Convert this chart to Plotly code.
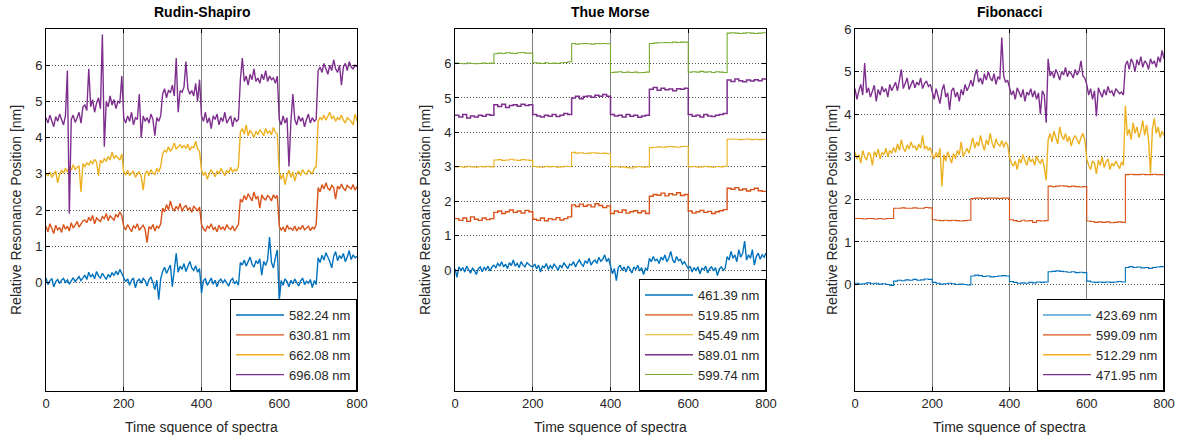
import plotly.graph_objects as go

# ---------------- sample indices ----------------
x_fine = list(range(0, 801, 5))     # densely read (noisy) traces
x_coarse = list(range(0, 801, 10))  # step-like traces

tick_x = [0, 200, 400, 600, 800]
tick_y = [0, 1, 2, 3, 4, 5, 6]

# ---------------- Rudin-Shapiro ----------------
rs_names = ["582.24 nm", "630.81 nm", "662.08 nm", "696.08 nm"]
rs_582 = [0.12, -0.06, 0.05, 0.10, -0.12, 0.02, 0.08, -0.03, 0.06, 0.11, 0.00, 0.07, -0.05, 0.04, 0.13, 0.02, 0.09, 0.16, 0.05, 0.14,
          0.20, 0.08, 0.28, 0.15, 0.22, 0.10, 0.30, 0.18, 0.12, 0.25, 0.16, 0.08, 0.22, 0.14, 0.27, 0.19, 0.31, 0.21, 0.36, 0.24,
          0.15, 0.02, 0.10, -0.08, 0.06, 0.12, -0.15, 0.04, 0.09, -0.02, 0.11, 0.05, -0.10, 0.08, 0.14, 0.00, -0.20, 0.06, -0.48, 0.10,
          0.30, 0.42, 0.25, 0.38, 0.48, -0.12, 0.35, 0.80, 0.28, 0.45, 0.36, 0.52, 0.30, 0.44, 0.58, 0.40, 0.33, 0.46, 0.28, 0.38,
          -0.30, 0.05, 0.10, -0.08, 0.02, 0.12, -0.05, 0.06, -0.12, 0.04, 0.09, -0.02, 0.07, 0.00, -0.10, 0.05, 0.11, -0.04, 0.03, -0.08,
          0.55, 0.48, 0.62, 0.45, 0.58, 0.70, 0.50, 0.42, 0.60, 0.52, 0.65, 0.20, 0.58, 0.47, 0.62, 1.25, 0.55, 0.40, 0.68, 0.90,
          -0.50, 0.05, -0.08, 0.10, 0.02, -0.12, 0.06, -0.04, 0.09, 0.00, -0.10, 0.04, 0.12, -0.06, 0.03, -0.02, 0.08, -0.14, 0.05, -0.06,
          0.68, 0.55, 0.75, 0.62, 0.82, 0.70, 0.58, 0.40, 0.72, 0.85, 0.60, 0.74, 0.66, 0.80, 0.57, 0.70, 0.88, 0.63, 0.76, 0.68, 0.72]
rs_630 = [1.55, 1.40, 1.62, 1.48, 1.35, 1.58, 1.45, 1.52, 1.38, 1.60, 1.47, 1.55, 1.42, 1.65, 1.50, 1.58, 1.68, 1.53, 1.62, 1.70,
          1.72, 1.65, 1.80, 1.70, 1.85, 1.62, 1.78, 1.74, 1.68, 1.82, 1.76, 1.90, 1.70, 1.84, 1.78, 1.72, 1.88, 1.80, 1.95, 1.84,
          1.55, 1.45, 1.60, 1.48, 1.40, 1.56, 1.50, 1.62, 1.44, 1.52, 1.58, 1.46, 1.10, 1.54, 1.48, 1.60, 1.42, 1.55, 1.50, 1.62,
          2.05, 1.95, 2.15, 2.00, 2.25, 2.05, 1.98, 2.10, 2.02, 2.18, 1.96, 2.08, 2.12, 2.00, 2.06, 1.94, 2.10, 2.04, 1.98, 2.08,
          1.60, 1.48, 1.42, 1.55, 1.50, 1.62, 1.45, 1.52, 1.40, 1.58, 1.47, 1.53, 1.44, 1.60, 1.50, 1.46, 1.56, 1.42, 1.52, 1.60,
          2.30, 2.22, 2.40, 2.28, 2.45, 2.35, 2.25, 2.50, 2.30, 2.38, 2.05, 2.42, 2.32, 2.28, 2.40, 2.35, 2.25, 2.42, 2.33, 2.40,
          1.55, 1.45, 1.52, 1.40, 1.58, 1.48, 1.50, 1.44, 1.56, 1.42, 1.52, 1.47, 1.58, 1.45, 1.50, 1.55, 1.43, 1.52, 1.48, 1.60,
          2.62, 2.50, 2.70, 2.58, 2.75, 2.60, 2.55, 2.68, 2.62, 2.30, 2.66, 2.58, 2.72, 2.60, 2.54, 2.68, 2.62, 2.58, 2.70, 2.55, 2.65]
rs_662 = [3.00, 2.95, 3.05, 2.90, 3.00, 3.08, 2.75, 2.98, 3.10, 3.02, 3.15, 3.05, 3.20, 3.10, 3.25, 3.12, 3.18, 3.22, 2.50, 3.28,
          3.20, 3.30, 3.25, 3.35, 3.28, 3.40, 3.32, 2.95, 3.38, 3.30, 3.42, 3.35, 3.48, 3.38, 3.60, 3.42, 3.50, 3.45, 3.38, 3.55,
          3.05, 2.98, 3.10, 2.95, 3.02, 3.08, 2.90, 3.00, 3.05, 2.92, 2.55, 3.00, 3.08, 2.95, 3.12, 3.02, 2.98, 3.15, 3.05, 3.20,
          3.55, 3.65, 3.60, 3.75, 3.62, 3.70, 3.85, 3.68, 3.75, 3.80, 3.72, 3.78, 3.70, 3.82, 3.65, 3.75, 3.72, 3.90, 3.68, 3.62,
          3.10, 2.95, 3.05, 2.85, 3.00, 3.12, 3.02, 2.92, 3.08, 3.00, 3.15, 3.05, 2.95, 3.10, 3.02, 3.18, 3.05, 3.12, 3.08, 3.20,
          4.15, 4.25, 4.10, 4.35, 4.05, 4.20, 4.12, 4.00, 4.18, 4.08, 4.22, 4.15, 4.05, 4.25, 4.12, 4.18, 4.08, 4.28, 4.15, 4.10,
          3.05, 2.85, 3.00, 2.70, 2.95, 3.10, 2.90, 3.05, 2.80, 3.00, 3.08, 2.95, 3.12, 3.02, 2.98, 3.10, 3.05, 3.00, 3.15, 3.20,
          4.45, 4.55, 4.50, 4.62, 4.48, 4.58, 4.70, 4.52, 4.60, 4.45, 4.55, 4.50, 4.62, 4.48, 4.40, 4.55, 4.50, 4.45, 4.35, 4.65, 4.45]
rs_696 = [4.55, 4.40, 4.62, 4.48, 4.30, 4.58, 4.45, 4.65, 4.50, 4.35, 4.60, 5.85, 1.90, 4.50, 4.62, 4.42, 4.55, 4.70, 4.40, 4.85,
          4.90, 4.75, 5.90, 4.85, 5.05, 4.70, 4.95, 5.10, 4.80, 6.85, 3.75, 5.00, 4.85, 5.15, 4.90, 5.05, 4.80, 5.00, 4.95, 5.70,
          4.55, 4.40, 4.60, 4.45, 4.70, 4.35, 4.55, 4.50, 5.20, 4.00, 4.60, 4.45, 4.55, 4.40, 4.65, 4.50, 4.05, 4.55, 4.45, 4.60,
          5.20, 5.35, 5.10, 5.30, 5.25, 5.45, 5.15, 6.20, 4.70, 5.30, 5.25, 5.40, 6.10, 5.35, 5.20, 5.30, 5.15, 5.50, 5.00, 5.60,
          4.60, 4.45, 4.70, 4.40, 4.55, 4.25, 4.60, 4.50, 4.65, 4.35, 4.55, 4.45, 4.70, 4.40, 4.50, 4.60, 4.30, 4.55, 4.45, 4.50,
          5.60, 6.20, 5.55, 5.70, 5.45, 5.75, 5.60, 5.90, 5.55, 5.65, 5.50, 5.75, 5.60, 5.85, 5.55, 5.70, 5.60, 5.65, 5.50, 5.70,
          4.50, 4.35, 4.60, 4.40, 4.55, 3.20, 4.45, 5.20, 4.50, 4.35, 4.60, 4.45, 4.55, 4.30, 4.50, 4.65, 4.40, 4.55, 4.45, 4.50,
          5.85, 5.95, 5.80, 6.05, 5.90, 5.75, 6.00, 5.85, 6.15, 5.90, 5.80, 6.00, 5.45, 5.95, 6.05, 5.85, 6.10, 5.95, 5.90, 6.00, 5.95]

# ---------------- Thue Morse ----------------
tm_names = ["461.39 nm", "519.85 nm", "545.49 nm", "589.01 nm", "599.74 nm"]
tm_461 = [0.05, -0.20, 0.10, 0.00, 0.08, -0.05, 0.12, 0.02, -0.08, 0.06, 0.00, -0.12, 0.05, 0.10, -0.04, 0.08, 0.02, 0.12, -0.02, 0.10,
          0.15, 0.08, 0.20, 0.12, 0.25, 0.10, 0.18, 0.05, 0.22, 0.14, 0.30, 0.12, 0.20, 0.08, 0.25, 0.15, 0.10, 0.22, 0.16, 0.12,
          0.10, 0.18, 0.05, 0.15, -0.05, 0.12, 0.08, 0.20, 0.02, 0.14, 0.06, 0.18, 0.10, 0.00, 0.15, 0.08, 0.22, 0.12, 0.05, 0.18,
          0.15, 0.25, 0.10, 0.22, 0.30, 0.18, 0.12, 0.28, 0.20, 0.35, 0.15, 0.25, 0.30, 0.20, 0.38, 0.26, 0.32, 0.45, 0.25, 0.35,
          0.10, -0.10, 0.05, -0.30, 0.08, 0.15, 0.00, 0.10, -0.05, 0.12, 0.04, -0.08, 0.10, 0.02, 0.15, -0.02, 0.08, -0.12, 0.06, 0.00,
          0.35, 0.25, 0.40, 0.28, 0.32, 0.20, 0.38, 0.30, 0.45, 0.25, 0.35, 0.55, 0.30, 0.22, 0.40, 0.28, 0.32, 0.18, 0.25, 0.15,
          0.05, 0.12, -0.05, 0.08, 0.00, 0.10, -0.10, 0.06, 0.02, 0.12, -0.08, 0.05, 0.10, -0.02, 0.08, -0.15, 0.04, 0.10, 0.00, 0.06,
          0.40, 0.30, 0.55, 0.35, 0.45, 0.25, 0.60, 0.38, 0.50, 0.85, 0.30, 0.45, 0.35, 0.60, 0.15, 0.40, 0.50, 0.32, 0.45, 0.38, 0.50]
tm_519 = [1.50, 1.45, 1.52, 1.42, 1.55, 1.48, 1.45, 1.52, 1.47, 1.50,
          1.68, 1.72, 1.65, 1.70, 1.75, 1.68, 1.72, 1.66, 1.74, 1.70,
          1.48, 1.45, 1.52, 1.44, 1.50, 1.47, 1.53, 1.46, 1.50, 1.55,
          1.90, 1.85, 1.92, 1.86, 1.90, 1.84, 1.93, 1.88, 1.82, 1.87,
          1.65, 1.72, 1.68, 1.75, 1.66, 1.70, 1.73, 1.67, 1.72, 1.65,
          2.15, 2.20, 2.18, 2.24, 2.16, 2.22, 2.19, 2.25, 2.17, 2.20,
          1.72, 1.66, 1.70, 1.74, 1.68, 1.71, 1.65, 1.70, 1.73, 1.76,
          2.38, 2.35, 2.40, 2.33, 2.36, 2.30, 2.34, 2.38, 2.31, 2.29, 2.30]
tm_545 = [3.00, 3.01, 2.99, 3.02, 3.00, 2.99, 3.01, 3.00, 3.02, 3.00,
          3.20, 3.21, 3.19, 3.20, 3.22, 3.20, 3.19, 3.21, 3.20, 3.19,
          3.01, 3.00, 2.99, 3.02, 3.00, 3.01, 2.99, 3.00, 3.02, 3.01,
          3.42, 3.40, 3.41, 3.39, 3.40, 3.41, 3.40, 3.39, 3.40, 3.38,
          3.00, 3.01, 2.99, 3.00, 2.98, 2.97, 3.00, 3.01, 2.99, 3.00,
          3.56, 3.57, 3.58, 3.57, 3.58, 3.59, 3.58, 3.57, 3.59, 3.60,
          3.00, 3.01, 2.99, 3.00, 3.02, 3.00, 2.99, 3.01, 3.00, 3.02,
          3.80, 3.81, 3.80, 3.79, 3.80, 3.81, 3.79, 3.80, 3.79, 3.80, 3.79]
tm_589 = [4.50, 4.45, 4.52, 4.42, 4.48, 4.45, 4.50, 4.47, 4.52, 4.50,
          4.80, 4.75, 4.82, 4.72, 4.78, 4.80, 4.76, 4.82, 4.78, 4.80,
          4.52, 4.48, 4.45, 4.50, 4.47, 4.52, 4.46, 4.50, 4.55, 4.52,
          5.00, 5.05, 4.98, 5.04, 5.06, 5.02, 5.08, 5.05, 5.10, 5.05,
          4.52, 4.48, 4.50, 4.45, 4.52, 4.47, 4.50, 4.44, 4.48, 4.50,
          5.25, 5.30, 5.22, 5.28, 5.24, 5.26, 5.21, 5.27, 5.25, 5.28,
          4.52, 4.47, 4.50, 4.45, 4.52, 4.48, 4.46, 4.50, 4.52, 4.55,
          5.52, 5.48, 5.55, 5.50, 5.47, 5.52, 5.49, 5.53, 5.50, 5.55, 5.56]
tm_599 = [6.01, 6.00, 5.99, 6.01, 6.00, 5.99, 6.00, 6.01, 6.00, 6.01,
          6.28, 6.30, 6.29, 6.31, 6.30, 6.29, 6.31, 6.32, 6.30, 6.30,
          6.02, 6.01, 6.00, 6.02, 6.00, 6.01, 6.00, 6.02, 6.03, 6.05,
          6.58, 6.56, 6.57, 6.58, 6.57, 6.56, 6.58, 6.57, 6.58, 6.57,
          5.74, 5.75, 5.76, 5.74, 5.75, 5.74, 5.75, 5.73, 5.74, 5.75,
          6.58, 6.59, 6.60, 6.60, 6.61, 6.60, 6.62, 6.61, 6.62, 6.62,
          5.75, 5.76, 5.75, 5.77, 5.75, 5.76, 5.74, 5.76, 5.75, 5.74,
          6.88, 6.89, 6.88, 6.87, 6.88, 6.89, 6.88, 6.87, 6.88, 6.89, 6.88]

# ---------------- Fibonacci ----------------
fb_names = ["423.69 nm", "599.09 nm", "512.29 nm", "471.95 nm"]
fb_423 = [0.03, 0.01, 0.02, 0.04, 0.02, 0.03, 0.01, 0.02, 0.00, -0.02,
          0.08, 0.10, 0.09, 0.11, 0.10, 0.12, 0.10, 0.11, 0.13, 0.12,
          0.05, 0.03, 0.01, 0.02, 0.03, 0.02, 0.00, 0.01, 0.00, -0.01,
          0.20, 0.22, 0.21, 0.19, 0.20, 0.18, 0.19, 0.20, 0.21, 0.20,
          0.07, 0.05, 0.03, 0.04, 0.03, 0.05, 0.04, 0.06, 0.05, 0.06,
          0.30, 0.31, 0.32, 0.31, 0.30, 0.29, 0.30, 0.28, 0.29, 0.28,
          0.08, 0.06, 0.05, 0.06, 0.05, 0.06, 0.05, 0.06, 0.07, 0.06,
          0.40, 0.42, 0.40, 0.41, 0.39, 0.40, 0.38, 0.40, 0.41, 0.42, 0.42]
fb_599 = [1.55, 1.55, 1.54, 1.55, 1.55, 1.54, 1.55, 1.54, 1.55, 1.55,
          1.79, 1.79, 1.80, 1.79, 1.79, 1.80, 1.79, 1.79, 1.81, 1.80,
          1.52, 1.51, 1.50, 1.51, 1.50, 1.51, 1.50, 1.49, 1.50, 1.51,
          2.02, 2.03, 2.03, 2.02, 2.03, 2.03, 2.03, 2.02, 2.03, 2.03,
          1.52, 1.50, 1.48, 1.51, 1.49, 1.50, 1.46, 1.50, 1.49, 1.50,
          2.31, 2.30, 2.31, 2.32, 2.31, 2.30, 2.31, 2.30, 2.29, 2.30,
          1.49, 1.48, 1.46, 1.47, 1.46, 1.47, 1.45, 1.46, 1.47, 1.46,
          2.58, 2.59, 2.58, 2.58, 2.59, 2.58, 2.58, 2.59, 2.58, 2.58, 2.58]
fb_512 = [3.10, 2.95, 3.05, 2.85, 3.15, 3.00, 2.92, 3.10, 3.05, 2.80, 3.12, 3.02, 3.18, 2.95, 3.10, 3.05, 3.20, 3.00, 3.15, 3.08,
          3.22, 3.10, 3.30, 3.15, 3.40, 3.20, 3.12, 3.28, 3.18, 3.35, 3.22, 3.25, 3.15, 3.30, 3.20, 3.50, 3.18, 3.25, 3.15, 3.22,
          3.05, 2.95, 3.10, 2.98, 3.20, 2.30, 3.05, 2.90, 3.12, 3.00, 2.85, 3.08, 2.95, 3.15, 3.05, 3.35, 3.00, 3.10, 3.20, 3.08,
          3.30, 3.45, 3.20, 3.35, 3.25, 3.50, 3.30, 3.15, 3.40, 3.28, 3.55, 3.32, 3.20, 3.42, 3.30, 3.25, 3.38, 3.22, 3.35, 3.28,
          3.00, 2.85, 2.78, 2.90, 2.70, 2.95, 2.85, 3.05, 2.90, 2.80, 3.00, 2.88, 2.95, 2.80, 3.02, 2.90, 2.85, 2.95, 2.75, 2.45,
          3.40, 3.55, 3.35, 3.60, 3.45, 3.30, 3.70, 3.50, 3.40, 3.55, 3.35, 3.48, 3.25, 3.42, 3.50, 3.38, 3.30, 3.45, 3.55, 3.40,
          2.95, 2.80, 2.70, 2.90, 2.85, 2.60, 2.92, 2.80, 3.00, 2.75, 2.88, 2.95, 2.70, 2.85, 2.78, 2.90, 2.80, 2.72, 2.88, 2.80,
          4.20, 3.50, 3.65, 3.40, 3.80, 3.55, 3.70, 3.45, 3.60, 3.85, 3.50, 3.75, 3.40, 2.60, 3.65, 3.90, 3.55, 3.70, 3.45, 3.60, 3.50]
fb_471 = [4.60, 4.35, 4.55, 4.70, 4.45, 5.20, 4.50, 4.62, 4.40, 4.55, 4.68, 4.30, 4.58, 4.45, 4.65, 4.52, 4.60, 4.40, 4.70, 4.55,
          4.65, 4.75, 4.55, 4.80, 5.05, 4.60, 4.72, 4.85, 4.58, 4.70, 4.80, 4.62, 4.75, 4.68, 4.85, 4.60, 4.72, 4.78, 4.65, 4.70,
          4.55, 4.35, 4.60, 4.45, 4.25, 4.55, 4.70, 4.40, 4.50, 4.10, 4.55, 4.62, 4.40, 4.52, 4.30, 4.58, 4.45, 4.70, 4.55, 4.65,
          4.80, 4.65, 4.90, 5.05, 4.75, 4.85, 4.70, 4.95, 4.80, 5.00, 4.85, 4.78, 4.95, 4.70, 4.88, 4.82, 5.80, 4.90, 4.75, 4.80,
          4.60, 4.45, 4.55, 4.35, 4.62, 4.50, 4.40, 4.58, 4.30, 4.52, 4.45, 4.60, 4.40, 4.55, 4.35, 4.50, 4.00, 4.55, 4.45, 3.80,
          5.30, 4.90, 5.00, 4.85, 5.05, 4.95, 4.80, 5.00, 4.92, 5.10, 4.88, 5.00, 4.95, 4.85, 5.05, 4.92, 5.00, 5.25, 4.90, 4.85,
          4.70, 4.45, 4.60, 4.35, 4.55, 3.95, 4.62, 4.50, 4.40, 4.58, 4.45, 4.65, 4.50, 4.55, 4.42, 4.60, 4.55, 4.48, 4.52, 4.45,
          5.15, 5.25, 5.05, 5.30, 5.20, 5.00, 5.28, 5.15, 5.35, 5.10, 5.25, 5.20, 5.05, 5.30, 5.18, 5.25, 5.10, 5.35, 5.22, 5.50, 5.30]

panel_titles = ["Rudin-Shapiro", "Thue Morse", "Fibonacci"]
x_title = "Time squence of spectra"
y_title = "Relative Resonance Position [nm]"

BLUE, ORANGE, YELLOW, PURPLE, GREEN = "#0072BD", "#D95319", "#EDB120", "#7E2F8E", "#77AC30"
FONT = "Liberation Sans, Arial, sans-serif"
TXT = "#262626"

W, H = 1184, 444
def px_x(p):
    return p / W
def px_y(p):
    return 1 - p / H

x_domains = [[px_x(46), px_x(357)], [px_x(455), px_x(766)], [px_x(855), px_x(1164)]]
y_domain = [px_y(391), px_y(29)]
y_ranges = [[-3, 7], [-3.5, 7], [-2.5, 6]]
ytitle_x = [16, 425, 832]

fig = go.Figure()

def add(panel, xs, ys, name, color, shape="linear", width=1.4):
    sfx = "" if panel == 0 else str(panel + 1)
    fig.add_trace(go.Scatter(
        x=xs, y=ys, name=name, mode="lines",
        line=dict(color=color, width=width, shape=shape),
        xaxis="x" + sfx, yaxis="y" + sfx,
        legend="legend" + sfx, hoverinfo="skip"))

add(0, x_fine, rs_582, rs_names[0], BLUE)
add(0, x_fine, rs_630, rs_names[1], ORANGE)
add(0, x_fine, rs_662, rs_names[2], YELLOW)
add(0, x_fine, rs_696, rs_names[3], PURPLE)

add(1, x_fine, tm_461, tm_names[0], BLUE)
add(1, x_coarse, tm_519, tm_names[1], ORANGE, "hv", 1.4)
add(1, x_coarse, tm_545, tm_names[2], YELLOW, "hv", 1.1)
add(1, x_coarse, tm_589, tm_names[3], PURPLE, "hv", 1.5)
add(1, x_coarse, tm_599, tm_names[4], GREEN, "hv", 1.1)

add(2, x_coarse, fb_423, fb_names[0], BLUE, "hv", 1.1)
add(2, x_coarse, fb_599, fb_names[1], ORANGE, "hv", 1.1)
add(2, x_fine, fb_512, fb_names[2], YELLOW)
add(2, x_fine, fb_471, fb_names[3], PURPLE)

layout = dict(
    width=W, height=H,
    margin=dict(l=0, r=0, t=0, b=0, autoexpand=False),
    paper_bgcolor="white", plot_bgcolor="white",
    font=dict(family=FONT, size=13, color=TXT),
    showlegend=True,
    annotations=[],
)

for i in range(3):
    sfx = "" if i == 0 else str(i + 1)
    layout["xaxis" + sfx] = dict(
        domain=x_domains[i], anchor="y" + sfx, range=[0, 800],
        tickvals=tick_x, ticks="inside", ticklen=4, tickcolor="black",
        showline=True, linecolor="black", linewidth=1, mirror="ticks",
        showgrid=True, gridcolor="#808080", gridwidth=1,
        zeroline=False, automargin=False,
        tickfont=dict(size=13, color=TXT, family=FONT),
    )
    layout["yaxis" + sfx] = dict(
        domain=y_domain, anchor="x" + sfx, range=y_ranges[i],
        tickvals=tick_y, ticks="inside", ticklen=4, tickcolor="black",
        showline=True, linecolor="black", linewidth=1, mirror="ticks",
        showgrid=True, gridcolor="#505050", gridwidth=1, griddash="1px,2px",
        zeroline=False, automargin=False,
        tickfont=dict(size=13, color=TXT, family=FONT),
    )
    layout["legend" + sfx] = dict(
        x=x_domains[i][1], y=y_domain[0], xanchor="right", yanchor="bottom",
        xref="paper", yref="paper",
        bgcolor="white", bordercolor="black", borderwidth=1,
        font=dict(size=13, color=TXT, family=FONT),
        tracegroupgap=0, itemwidth=48,
    )
    cx = (x_domains[i][0] + x_domains[i][1]) / 2
    layout["annotations"].append(dict(
        text="<b>" + panel_titles[i] + "</b>", showarrow=False,
        x=cx, y=px_y(12), xref="paper", yref="paper",
        xanchor="center", yanchor="middle",
        font=dict(size=14, color="black", family=FONT)))
    layout["annotations"].append(dict(
        text=x_title, showarrow=False,
        x=cx, y=px_y(427), xref="paper", yref="paper",
        xanchor="center", yanchor="middle",
        font=dict(size=14, color=TXT, family=FONT)))
    layout["annotations"].append(dict(
        text=y_title, showarrow=False, textangle=-90,
        x=px_x(ytitle_x[i]), y=(y_domain[0] + y_domain[1]) / 2,
        xref="paper", yref="paper",
        xanchor="center", yanchor="middle",
        font=dict(size=14, color=TXT, family=FONT)))

fig.update_layout(**layout)
fig.write_html("out.html")
